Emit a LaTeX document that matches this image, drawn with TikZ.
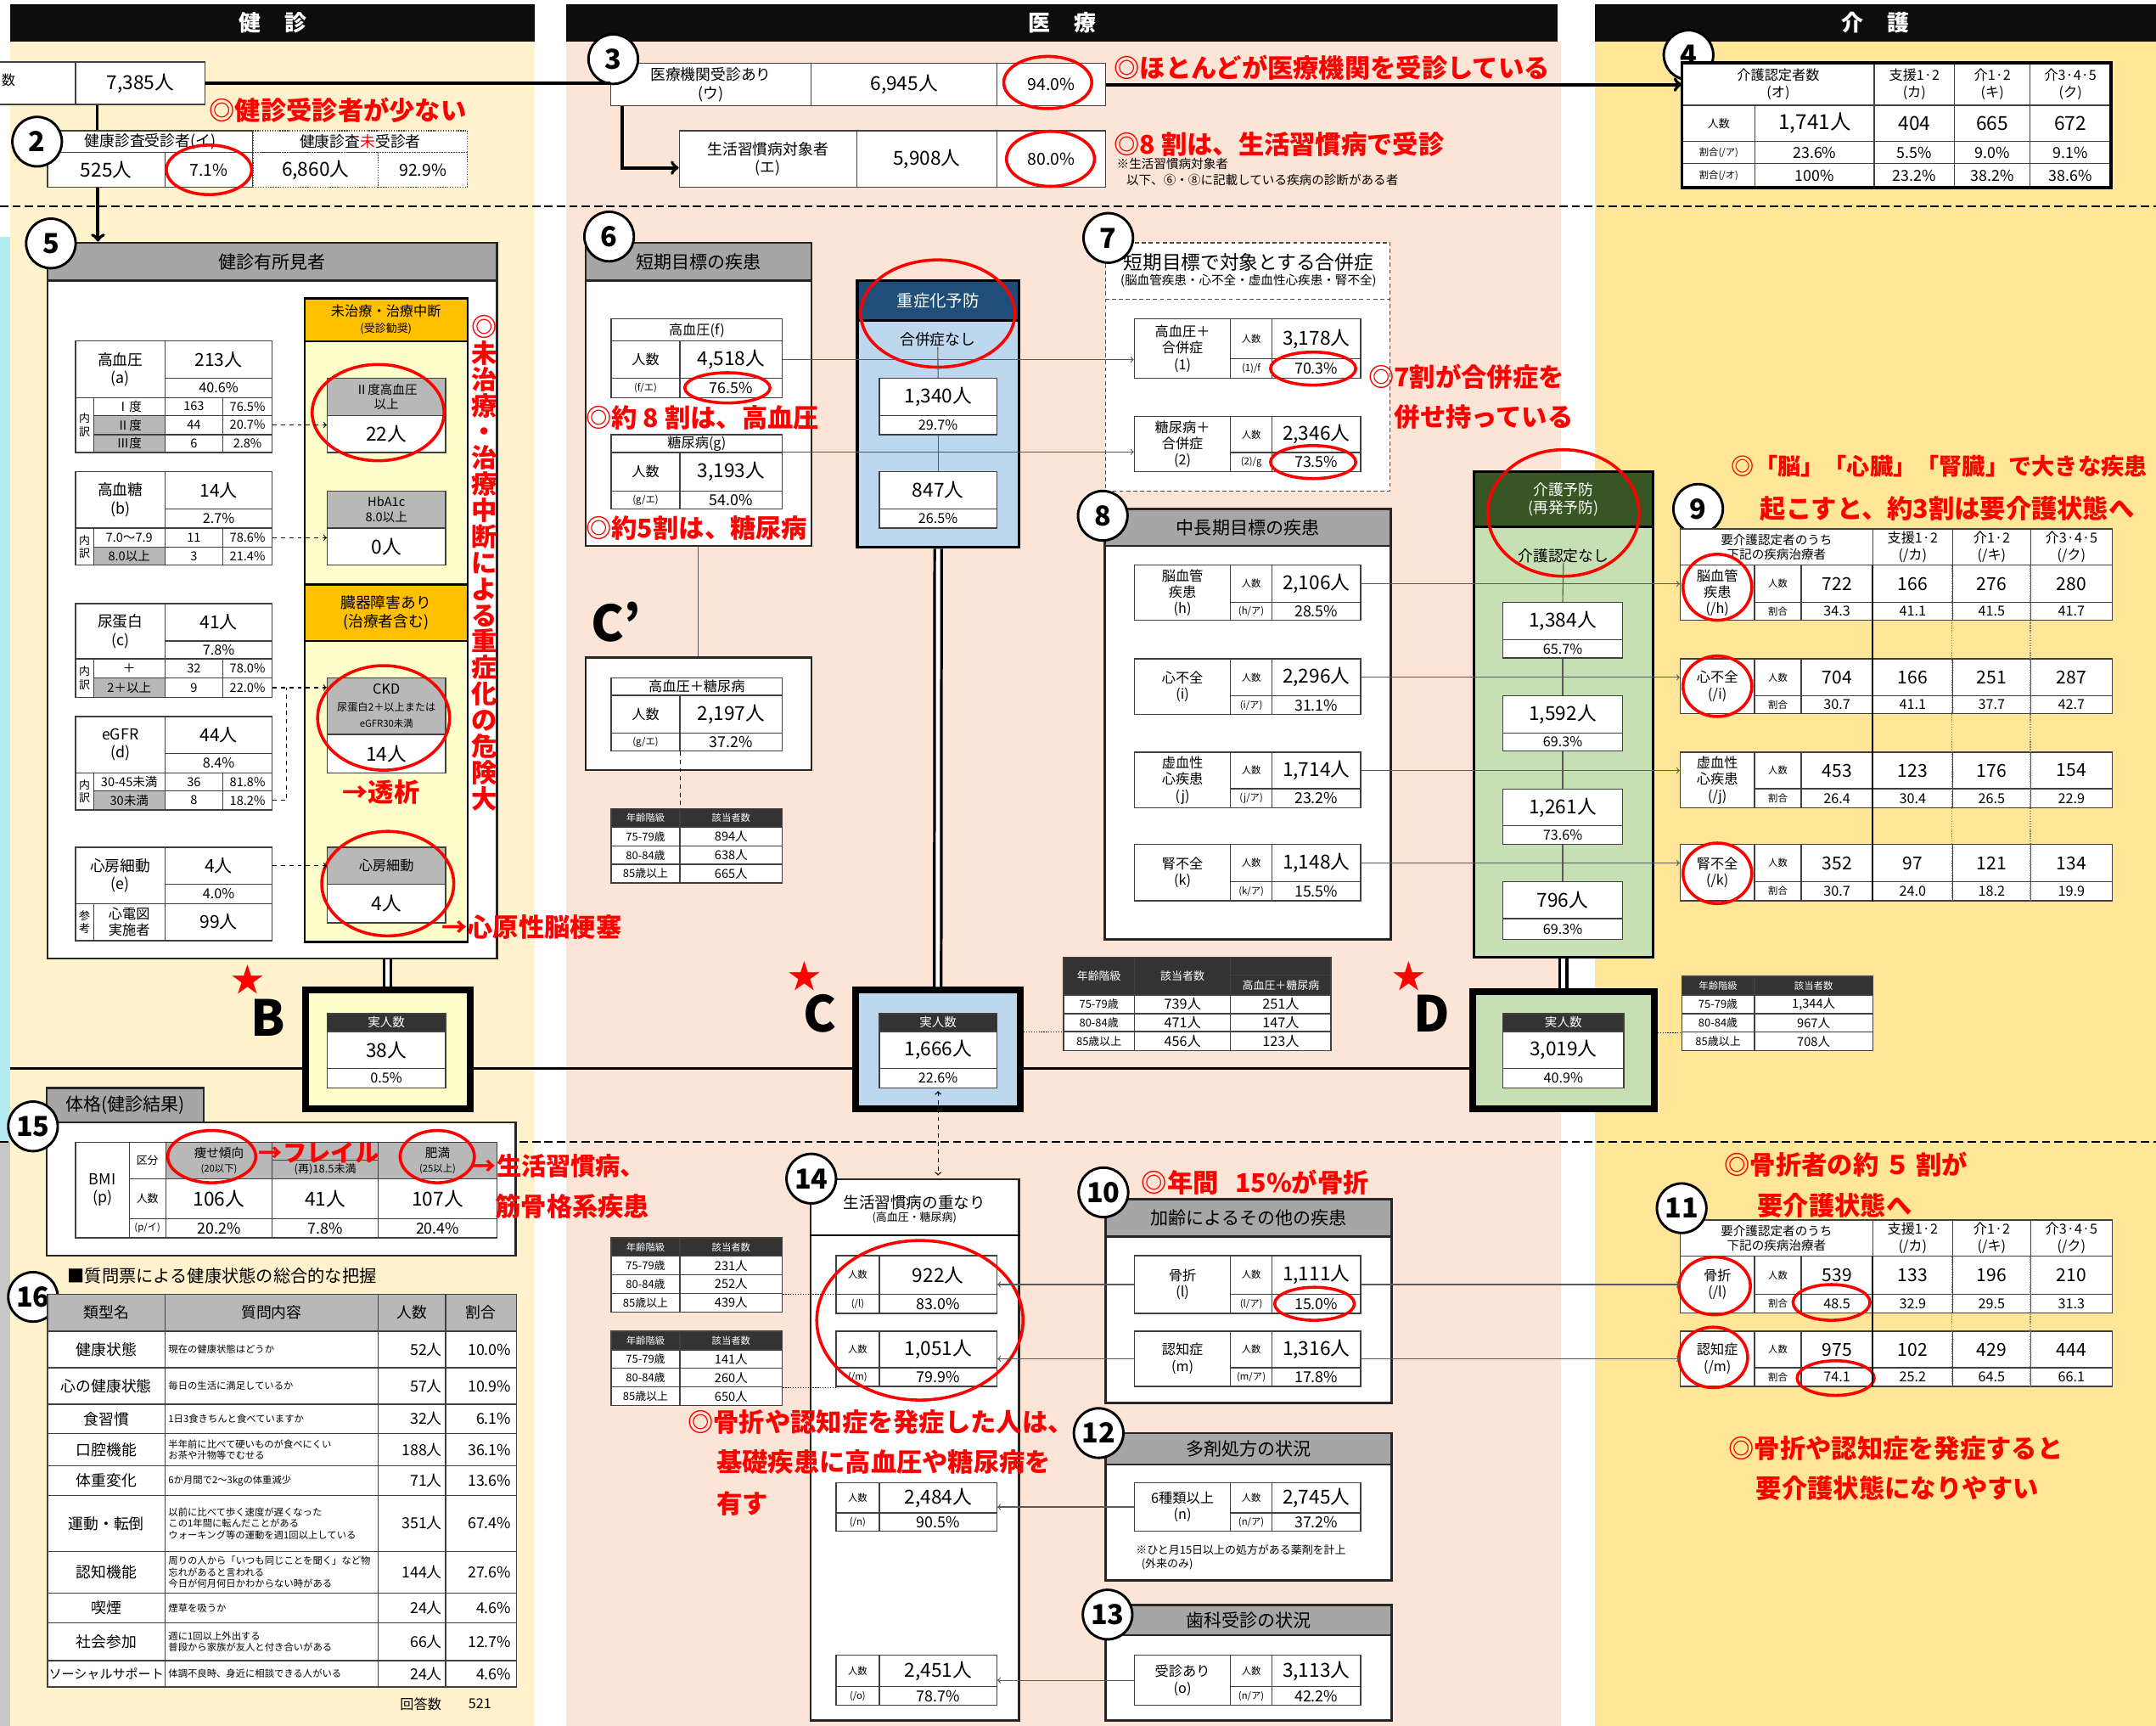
\documentclass[tikz,border=0pt]{standalone}
\usepackage{fontspec}
\setmainfont{Noto Sans CJK JP}
\usetikzlibrary{arrows,calc,shapes,positioning}
\tikzset{>=to}
\definecolor{kencream}{RGB}{255,242,204}
\definecolor{iryopink}{RGB}{252,228,214}
\definecolor{kaigoyel}{RGB}{255,230,153}
\definecolor{stripblue}{RGB}{180,235,240}
\definecolor{orgbox}{RGB}{255,192,0}
\definecolor{paleyel}{RGB}{255,255,204}
\definecolor{navy}{RGB}{31,78,121}
\definecolor{skyblue}{RGB}{189,215,238}
\definecolor{darkgrn}{RGB}{55,86,35}
\definecolor{palegrn}{RGB}{198,224,180}
\definecolor{hdrgray}{RGB}{166,166,166}
\definecolor{cellgray}{RGB}{184,184,184}
\newcommand{\fs}[1]{\fontsize{#1}{#1}\selectfont\baselineskip=1.2\baselineskip}
\tikzstyle{cell}=[rectangle,draw=black!75,fill=white,line width=0.8pt,inner sep=0pt,align=center,font=\fs{9}]
\tikzstyle{gcell}=[cell,fill=cellgray]
\tikzstyle{dcell}=[cell,fill=black!80,text=white]
\tikzstyle{dotcell}=[cell,densely dotted]
\tikzstyle{hdr}=[cell,fill=hdrgray,draw=black!85,line width=1.5pt,font=\fs{13}]
\tikzstyle{frame}=[cell,draw=black!85,line width=1.5pt]
\tikzstyle{dashframe}=[cell,densely dashed,draw=black!70]
\tikzstyle{hdrbar}=[rectangle,fill=black!95,text=white,inner sep=0pt,font=\bfseries\fs{16}]
\tikzstyle{ocell}=[cell,fill=orgbox,draw=black,line width=1.5pt,font=\fs{10}]
\tikzstyle{ybody}=[cell,fill=paleyel,draw=black,line width=1.5pt]
\tikzstyle{bigbox}=[cell,draw=black,line width=5pt]
\tikzstyle{qcell}=[cell,text width=150pt,align=left,font=\fs{7}]
\tikzstyle{ncell}=[cell,text width=44pt,align=right,font=\fs{11}]
\tikzstyle{numcirc}=[circle,draw,line width=1.8pt,fill=white,minimum size=36pt,inner sep=0pt,font=\bfseries\fs{20}]
\tikzstyle{memo}=[anchor=west,inner sep=0pt,text=red,font=\bfseries\fs{18.7}]
\tikzstyle{note}=[anchor=west,inner sep=0pt,font=\fs{8}]
\tikzstyle{ring}=[draw=red,line width=2.2pt]
\tikzstyle{starmark}=[text=red,inner sep=0pt,font=\fs{24}]
\tikzstyle{bigletter}=[inner sep=0pt,font=\bfseries\fs{36}]
\tikzstyle{sepline}=[line width=1.2pt,dash pattern=on 6pt off 3pt]
\tikzstyle{thinln}=[draw=black!65,line width=0.7pt]
\tikzstyle{thinarr}=[->,draw=black!65,line width=0.7pt]
\tikzstyle{dasharr}=[->,dashed,line width=0.7pt]
\tikzstyle{dashln}=[dashed,line width=0.7pt]
\tikzstyle{dotln}=[densely dotted,line width=0.8pt]
\tikzstyle{bold}=[line width=2.2pt]
\tikzstyle{boldarr}=[->,line width=2.5pt]
\tikzstyle{dbl}=[double,double distance=3pt,line width=2pt]
\tikzstyle{mainln}=[line width=2pt]
% cell: [style]{name}{x1}{y1}{x2}{y2}{text}
\newcommand{\bx}[7][cell]{\node[#1,minimum width={(#5)-(#3)},minimum height={(#6)-(#4)}] (#2) at ({((#3)+(#5))/2},{((#4)+(#6))/2}) {#7};}
\newcommand{\kentab}[7]{%
  \bx[cell,font=\fs{11}]{#1}{55}{#2}{120}{#4}{#5}%
  \bx[cell,font=\fs{13}]{#1n}{120}{#2}{198}{#3}{#6}%
  \bx[cell,font=\fs{10}]{#1p}{120}{#3}{198}{#4}{#7}}
\newcommand{\kenrow}[7][cell]{%
  \bx[#1]{#2l}{68}{#3}{120}{#4}{#5}%
  \bx{#2n}{120}{#3}{162}{#4}{#6}%
  \bx{#2p}{162}{#3}{198}{#4}{#7}}
\newcommand{\kenside}[4]{\bx[cell,font=\fs{8}]{#1}{55}{#2}{68}{#3}{#4}}
\newcommand{\dtab}[8]{%
  \bx[cell,font=\fs{10}]{#1}{825}{#2}{895}{#4}{#5}%
  \bx[cell,font=\fs{7}]{#1n}{895}{#2}{925}{#3}{人数}%
  \bx[cell,font=\fs{14}]{#1v}{925}{#2}{989.5}{#3}{#6}%
  \bx[cell,font=\fs{7}]{#1r}{895}{#3}{925}{#4}{#7}%
  \bx[cell,font=\fs{11}]{#1p}{925}{#3}{989.5}{#4}{#8}}
\newcommand{\stab}[7]{%
  \bx[cell,font=\fs{7}]{#1n}{608}{#2}{639.5}{#3}{人数}%
  \bx[cell,font=\fs{14}]{#1}{639.5}{#2}{725}{#3}{#5}%
  \bx[cell,font=\fs{7}]{#1r}{608}{#3}{639.5}{#4}{#6}%
  \bx[cell,font=\fs{11}]{#1p}{639.5}{#3}{725}{#4}{#7}}
\newcommand{\kgrp}[9]{%
  \bx[cell,font=\fs{10}]{#1}{1222}{#2}{1276}{#4}{#5}%
  \bx[cell,font=\fs{7}]{#1n}{1276}{#2}{1310}{#3}{人数}%
  \bx[cell,font=\fs{13}]{#1v}{1310}{#2}{1362}{#3}{#6}%
  \bx[cell,font=\fs{13}]{#1a}{1362}{#2}{1420}{#3}{#7}%
  \bx[cell,font=\fs{13}]{#1b}{1420}{#2}{1477}{#3}{#8}%
  \bx[cell,font=\fs{13}]{#1c}{1477}{#2}{1536}{#3}{#9}}
\newcommand{\kgrpr}[7]{%
  \bx[cell,font=\fs{7}]{#1r}{1276}{#2}{1310}{#3}{割合}%
  \bx[cell,font=\fs{10}]{#1p}{1310}{#2}{1362}{#3}{#4}%
  \bx[cell,font=\fs{10}]{#1pa}{1362}{#2}{1420}{#3}{#5}%
  \bx[cell,font=\fs{10}]{#1pb}{1420}{#2}{1477}{#3}{#6}%
  \bx[cell,font=\fs{10}]{#1pc}{1477}{#2}{1536}{#3}{#7}}
\newcommand{\kaigohead}[3]{%
  \bx[cell,font=\fs{9}]{#1}{1222}{#2}{1362}{#3}{要介護認定者のうち\\下記の疾病治療者}%
  \bx[cell,font=\fs{10}]{#1a}{1362}{#2}{1420}{#3}{支援1·2\\(/カ)}%
  \bx[cell,font=\fs{10}]{#1b}{1420}{#2}{1477}{#3}{介1·2\\(/キ)}%
  \bx[cell,font=\fs{10}]{#1c}{1477}{#2}{1536}{#3}{介3·4·5\\(/ク)}}
\newcommand{\agetab}[8]{%
  \bx[dcell,font=\fs{7}]{#1h1}{#2}{#5}{#3}{(#5)+13.5}{年齢階級}%
  \bx[dcell,font=\fs{7}]{#1h2}{#3}{#5}{#4}{(#5)+13.5}{該当者数}%
  \bx[cell,font=\fs{8}]{#1a1}{#2}{(#5)+13.5}{#3}{(#5)+27}{75-79歳}%
  \bx[cell,font=\fs{9}]{#1v1}{#3}{(#5)+13.5}{#4}{(#5)+27}{#6}%
  \bx[cell,font=\fs{8}]{#1a2}{#2}{(#5)+27}{#3}{(#5)+40.5}{80-84歳}%
  \bx[cell,font=\fs{9}]{#1v2}{#3}{(#5)+27}{#4}{(#5)+40.5}{#7}%
  \bx[cell,font=\fs{8}]{#1a3}{#2}{(#5)+40.5}{#3}{(#5)+54}{85歳以上}%
  \bx[cell,font=\fs{9}]{#1v3}{#3}{(#5)+40.5}{#4}{(#5)+54}{#8}}
\newcommand{\jitsu}[6]{%
  \bx[dcell,font=\fs{9}]{#1h}{#2}{737}{#3}{750}{実人数}%
  \bx[cell,font=\fs{14}]{#1v}{#2}{750}{#3}{777}{#4}%
  \bx[cell,font=\fs{10}]{#1p}{#2}{777}{#3}{791}{#5}}

\begin{document}
\begin{tikzpicture}[x=1pt,y=-1pt]
\useasboundingbox (0,0) rectangle (1568,1255);
% columns
\fill[white] (0,0) rectangle (1568,1255);
\fill[kencream] (7.7,30) rectangle (389,1255);
\fill[iryopink] (412,30) rectangle (1135,1255);
\fill[kaigoyel] (1160,30) rectangle (1568,1255);
\fill[stripblue] (0,172) rectangle (7.7,831);
\fill[black!22] (0,831) rectangle (7.7,1255);
\bx[hdrbar]{hken}{7.7}{3}{389}{30}{健\hspace{17pt}診}
\bx[hdrbar]{hiryo}{412}{3}{1133}{30}{医\hspace{17pt}療}
\bx[hdrbar]{hkaigo}{1160}{3}{1568}{30}{介\hspace{17pt}護}
\draw[sepline] (0,150) -- (1568,150);
\draw[sepline] (0,830) -- (1568,830);

% ---- 1, 2
\bx{totl}{-10}{45}{55}{76}{}
\node[anchor=west,inner sep=0pt,font=\fs{10}] (totlt) at (1,58) {数};
\bx[cell,font=\fs{14}]{totv}{55}{45}{149}{76}{7,385人}
\node[memo] (m1) at (152,80) {◎健診受診者が少ない};
\bx[cell,font=\fs{11}]{k2h1}{34.5}{95}{184}{111}{健康診査受診者(イ)}
\bx[dotcell,font=\fs{11}]{k2h2}{184}{95}{340}{111}{健康診査{\color{red}未}受診者}
\bx[cell,font=\fs{14}]{k2a}{34.5}{111}{120}{136}{525人}
\bx[cell,font=\fs{12}]{k2b}{120}{111}{184}{136}{7.1\%}
\bx[dotcell,font=\fs{14}]{k2c}{184}{111}{275}{136}{6,860人}
\bx[dotcell,font=\fs{12}]{k2d}{275}{111}{340}{136}{92.9\%}
\node[numcirc] (c2) at (27,103) {2};
\draw[ring] (152,123.5) ellipse (31pt and 18pt);

% ---- 3
\bx[cell,font=\fs{11}]{i3a}{444}{46}{590}{77}{医療機関受診あり\\(ウ)}
\bx[cell,font=\fs{14}]{i3b}{590}{46}{725}{77}{6,945人}
\bx[cell,font=\fs{12}]{i3c}{725}{46}{804}{77}{94.0\%}
\node[numcirc] (c3) at (446,43) {3};
\draw[ring] (762,60) ellipse (32pt and 19pt);
\node[memo] (m2) at (810,49) {◎ほとんどが医療機関を受診している};
\bx[cell,font=\fs{11}]{i3d}{494}{95}{623}{136}{生活習慣病対象者\\(エ)}
\bx[cell,font=\fs{14}]{i3e}{623}{95}{725}{136}{5,908人}
\bx[cell,font=\fs{12}]{i3f}{725}{95}{804}{136}{80.0\%}
\draw[ring] (764,115.5) ellipse (32pt and 20pt);
\node[memo] (m3) at (810,105) {◎8 割は、生活習慣病で受診};
\node[note,font=\fs{9}] (n3a) at (812,119) {※生活習慣病対象者};
\node[note,font=\fs{9}] (n3b) at (819,131) {以下、⑥・⑧に記載している疾病の診断がある者};

% ---- 4
\node[numcirc] (c4) at (1228,40) {4};
\bx[cell,font=\fs{10}]{k4h}{1223.5}{46}{1363}{76.5}{介護認定者数\\(オ)}
\bx[cell,font=\fs{8}]{k4n}{1223.5}{76.5}{1276.5}{103}{人数}
\bx[cell,font=\fs{15}]{k4v}{1276.5}{76.5}{1363}{103}{1,741人}
\bx[cell,font=\fs{7}]{k4r1}{1223.5}{103}{1276.5}{119}{割合(/ア)}
\bx[cell,font=\fs{11}]{k4p}{1276.5}{103}{1363}{119}{23.6\%}
\bx[cell,font=\fs{7}]{k4r2}{1223.5}{119}{1276.5}{136}{割合(/オ)}
\bx[cell,font=\fs{11}]{k4q}{1276.5}{119}{1363}{136}{100\%}
\foreach \c/\xa/\xb/\hd/\nv/\ra/\rb in {a/1363/1421.5/{支援1·2\\(カ)}/404/5.5/23.2,
    b/1421.5/1476.5/{介1·2\\(キ)}/665/9.0/38.2, c/1476.5/1535/{介3·4·5\\(ク)}/672/9.1/38.6}{
  \bx[cell,font=\fs{10}]{k4h\c}{\xa}{46}{\xb}{76.5}{\hd}
  \bx[cell,font=\fs{14}]{k4v\c}{\xa}{76.5}{\xb}{103}{\nv}
  \bx[cell,font=\fs{11}]{k4p\c}{\xa}{103}{\xb}{119}{\ra\%}
  \bx[cell,font=\fs{11}]{k4q\c}{\xa}{119}{\xb}{136}{\rb\%}
}
\draw[line width=2.2pt] (k4h.north west) rectangle (k4qc.south east);

% ---- 5
\bx[frame]{b5}{34.5}{176.5}{361.5}{697}{}
\bx[hdr]{b5h}{34.5}{176.5}{361.5}{204}{健診有所見者}
\node[numcirc] (c5) at (37,177) {5};
\kentab{ta}{248}{275}{289}{高血圧\\(a)}{213人}{40.6\%}
\kenside{tas}{289}{329}{内\\訳}
\kenrow{ta1}{289}{302}{Ⅰ度}{163}{76.5\%}
\kenrow[gcell]{ta2}{302}{316}{Ⅱ度}{44}{20.7\%}
\kenrow[gcell]{ta3}{316}{329}{Ⅲ度}{6}{2.8\%}
\kentab{tb}{343}{370}{384}{高血糖\\(b)}{14人}{2.7\%}
\kenside{tbs}{384}{411}{内\\訳}
\kenrow{tb1}{384}{398}{7.0〜7.9}{11}{78.6\%}
\kenrow[gcell]{tb2}{398}{411}{8.0以上}{3}{21.4\%}
\kentab{tc}{439}{466}{479}{尿蛋白\\(c)}{41人}{7.8\%}
\kenside{tcs}{479}{507}{内\\訳}
\kenrow{tc1}{479}{493}{＋}{32}{78.0\%}
\kenrow[gcell]{tc2}{493}{507}{2＋以上}{9}{22.0\%}
\kentab{td}{521}{548}{562}{eGFR\\(d)}{44人}{8.4\%}
\kenside{tds}{562}{589}{内\\訳}
\kenrow{td1}{562}{575}{30-45未満}{36}{81.8\%}
\kenrow[gcell]{td2}{575}{589}{30未満}{8}{18.2\%}
\kentab{te}{616}{643}{657}{心房細動\\(e)}{4人}{4.0\%}
\kenside{tes}{657}{684}{参\\考}
\bx[cell,font=\fs{10}]{ter}{68}{657}{120}{684}{心電図\\実施者}
\bx[cell,font=\fs{13}]{tev}{120}{657}{198}{684}{99人}
\bx[ocell]{ob1}{221.5}{217}{340}{248}{未治療・治療中断\\{\fs{8}(受診勧奨)}}
\bx[ybody]{yb1}{221.5}{248}{340}{425}{}
\bx[ocell,font=\fs{11}]{ob2}{221.5}{425}{340}{466}{臓器障害あり\\(治療者含む)}
\bx[ybody]{yb2}{221.5}{466}{340}{685}{}
\bx[gcell,font=\fs{9}]{s1}{238}{275}{324}{302}{Ⅱ度高血圧\\以上}
\bx[cell,font=\fs{14}]{s1v}{238}{302}{324}{329}{22人}
\bx[gcell,font=\fs{9}]{s2}{238}{357}{324}{384}{HbA1c\\8.0以上}
\bx[cell,font=\fs{14}]{s2v}{238}{384}{324}{411}{0人}
\bx[gcell,font=\fs{10}]{s3}{238}{493}{324}{534}{CKD\\{\fs{7.5}尿蛋白2＋以上または}\\{\fs{7}eGFR30未満}}
\bx[cell,font=\fs{14}]{s3v}{238}{534}{324}{562}{14人}
\bx[gcell,font=\fs{10}]{s4}{238}{616}{324}{643}{心房細動}
\bx[cell,font=\fs{14}]{s4v}{238}{643}{324}{671}{4人}
\draw[ring] (275,300) ellipse (48pt and 35pt);
\draw[ring] (279,522) ellipse (48pt and 38pt);
\draw[ring] (282,642.5) ellipse (48pt and 38pt);
\node[memo] (m4) at (249,576) {→透析};
\node[memo] (m5) at (321,674) {→心原性脳梗塞};
\node[memo,anchor=north,align=center,font=\bfseries\fontsize{18.7}{19.06}\selectfont] (m6) at (352,229)
  {◎\\未\\治\\療\\・\\治\\療\\中\\断\\に\\よ\\る\\重\\症\\化\\の\\危\\険\\大};

% ---- B
\bx[bigbox,fill=paleyel]{bbox}{222}{720}{342}{806}{}
\jitsu{bb}{238}{324}{38人}{0.5\%}{}
\node[starmark] (starb) at (180,712) {★};
\node[bigletter] (lb) at (195,740) {B};

% ---- 15
\bx[hdr,font=\fs{13}]{b15t}{34}{791}{148}{816}{体格(健診結果)}
\bx[frame]{b15}{34}{816}{375}{913}{}
\node[numcirc] (c15) at (24,819) {15};
\bx[cell,font=\fs{11}]{bmi}{55}{830.5}{94}{900}{BMI\\(p)}
\bx[cell,font=\fs{8}]{bmik}{94}{830.5}{120.5}{857}{区分}
\bx[cell,font=\fs{8}]{bmin}{94}{857}{120.5}{886}{人数}
\bx[cell,font=\fs{7}]{bmir}{94}{886}{120.5}{900}{(p/イ)}
\bx[gcell,font=\fs{9}]{bmh1}{120.5}{830.5}{198}{857}{痩せ傾向\\{\fs{7}(20以下)}}
\bx[gcell]{bmh2a}{198}{830.5}{275}{843.5}{}
\bx[gcell,font=\fs{8}]{bmh2}{198}{843.5}{275}{857}{(再)18.5未満}
\bx[gcell,font=\fs{9}]{bmh3}{275}{830.5}{361.5}{857}{肥満\\{\fs{7}(25以上)}}
\bx[cell,font=\fs{14}]{bmv1}{120.5}{857}{198}{886}{106人}
\bx[cell,font=\fs{14}]{bmv2}{198}{857}{275}{886}{41人}
\bx[cell,font=\fs{14}]{bmv3}{275}{857}{361.5}{886}{107人}
\bx[cell,font=\fs{11}]{bmp1}{120.5}{886}{198}{900}{20.2\%}
\bx[cell,font=\fs{11}]{bmp2}{198}{886}{275}{900}{7.8\%}
\bx[cell,font=\fs{11}]{bmp3}{275}{886}{361.5}{900}{20.4\%}
\draw[ring] (154,841) ellipse (32pt and 19pt);
\draw[ring] (318,841) ellipse (27pt and 19pt);
\node[memo,font=\bfseries\fs{17.5}] (m7) at (188,838) {→フレイル};
\node[memo,font=\bfseries\fs{18}] (m8) at (343,848) {→生活習慣病、};
\node[memo] (m9) at (360,877) {筋骨格系疾患};

% ---- 16
\node[numcirc] (c16) at (24,943) {16};
\node[anchor=west,inner sep=0pt,font=\fs{12.5}] (t16) at (49,928) {■質問票による健康状態の総合的な把握};
\bx[gcell,font=\fs{11}]{q0a}{34.6}{941}{120}{968}{類型名}
\bx[gcell,font=\fs{11}]{q0b}{120}{941}{275}{968}{質問内容}
\bx[gcell,font=\fs{11}]{q0c}{275}{941}{324}{968}{人数}
\bx[gcell,font=\fs{11}]{q0d}{324}{941}{375.5}{968}{割合}
\foreach \ya/\yb/\nm/\qq/\nn/\pp [count=\i] in {
  968/994.5/{健康状態}/{現在の健康状態はどうか}/52/10.0,
  994.5/1021/{心の健康状態}/{毎日の生活に満足しているか}/57/10.9,
  1021/1042.5/{食習慣}/{1日3食きちんと食べていますか}/32/6.1,
  1042.5/1065.6/{口腔機能}/{半年前に比べて硬いものが食べにくい\\お茶や汁物等でむせる}/188/36.1,
  1065.6/1087.4/{体重変化}/{6か月間で2〜3kgの体重減少}/71/13.6,
  1087.4/1128/{運動・転倒}/{以前に比べて歩く速度が遅くなった\\この1年間に転んだことがある\\ウォーキング等の運動を週1回以上している}/351/67.4,
  1128/1158.6/{認知機能}/{周りの人から「いつも同じことを聞く」など物\\忘れがあると言われる\\今日が何月何日かわからない時がある}/144/27.6,
  1158.6/1180/{喫煙}/{煙草を吸うか}/24/4.6,
  1180/1207.5/{社会参加}/{週に1回以上外出する\\普段から家族が友人と付き合いがある}/66/12.7,
  1207.5/1226.6/{{\fs{9.3}ソーシャルサポート}}/{体調不良時、身近に相談できる人がいる}/24/4.6}{
  \bx[cell,font=\fs{11}]{qa\i}{34.6}{\ya}{120}{\yb}{\nm}
  \bx[qcell]{qb\i}{120}{\ya}{275}{\yb}{\qq}
  \bx[ncell]{qc\i}{275}{\ya}{324}{\yb}{\nn 人}
  \bx[ncell]{qd\i}{324}{\ya}{375.5}{\yb}{\pp\%}
}
\node[inner sep=0pt,font=\fs{10}] (kaitou) at (306,1239) {回答数};
\node[inner sep=0pt,font=\fs{10}] (kaitoun) at (349,1239) {521};

% ---- 6, C'
\bx[frame]{b6}{426}{176.5}{590}{397}{}
\bx[hdr]{b6h}{426}{176.5}{590}{204}{短期目標の疾患}
\node[numcirc] (c6) at (443,172) {6};
\bx[cell,font=\fs{10}]{t6f}{444.5}{232}{569}{248}{高血圧(f)}
\bx[cell,font=\fs{10}]{t6fn}{444.5}{248}{494.5}{275}{人数}
\bx[cell,font=\fs{14}]{t6fv}{494.5}{248}{569}{275}{4,518人}
\bx[cell,font=\fs{7}]{t6fr}{444.5}{275}{494.5}{289}{(f/エ)}
\bx[cell,font=\fs{11}]{t6fp}{494.5}{275}{569}{289}{76.5\%}
\draw[ring] (529,282) ellipse (31pt and 11pt);
\node[memo] (m10) at (426,304) {◎約 8 割は、高血圧};
\bx[cell,font=\fs{10}]{t6g}{444.5}{316}{569}{329}{糖尿病(g)}
\bx[cell,font=\fs{10}]{t6gn}{444.5}{329}{494.5}{357}{人数}
\bx[cell,font=\fs{14}]{t6gv}{494.5}{329}{569}{357}{3,193人}
\bx[cell,font=\fs{7}]{t6gr}{444.5}{357}{494.5}{370}{(g/エ)}
\bx[cell,font=\fs{11}]{t6gp}{494.5}{357}{569}{370}{54.0\%}
\node[memo] (m11) at (426,384) {◎約5割は、糖尿病};
\node[bigletter] (lcp) at (448,452) {C’};
\bx[frame]{bcp}{426}{478}{590}{560}{}
\bx[cell,font=\fs{10}]{tcp}{444.5}{493}{569}{505.6}{高血圧＋糖尿病}
\bx[cell,font=\fs{10}]{tcpn}{444.5}{505.6}{494.5}{533}{人数}
\bx[cell,font=\fs{14}]{tcpv}{494.5}{505.6}{569}{533}{2,197人}
\bx[cell,font=\fs{7}]{tcpr}{444.5}{533}{494.5}{546}{(g/エ)}
\bx[cell,font=\fs{11}]{tcpp}{494.5}{533}{569}{546}{37.2\%}
\agetab{agc}{444.5}{494.5}{569}{588}{894人}{638人}{665人}

% ---- 重症化予防, C
\bx[cell,fill=skyblue,draw=black,line width=2pt]{jbox}{623.5}{204}{741}{398}{}
\bx[cell,fill=navy,text=white,draw=black,line width=2pt,font=\fs{12}]{jh}{623.5}{204}{741}{233}{重症化予防}
\node[inner sep=0pt,font=\fs{11}] (jn) at (682,247) {合併症なし};
\bx[cell,font=\fs{14}]{j1}{639.5}{275}{725}{302}{1,340人}
\bx[cell,font=\fs{10}]{j1p}{639.5}{302}{725}{316}{29.7\%}
\bx[cell,font=\fs{14}]{j2}{639.5}{343}{725}{370}{847人}
\bx[cell,font=\fs{10}]{j2p}{639.5}{370}{725}{384}{26.5\%}
\draw[ring] (682,228) ellipse (56pt and 39pt);
\bx[bigbox,fill=skyblue]{cbox}{622}{720}{742}{806}{}
\jitsu{cc}{639.5}{725}{1,666人}{22.6\%}{}
\node[starmark] (starc) at (585,710) {★};
\node[bigletter] (lc) at (596,737) {C};
\bx[dcell,font=\fs{8}]{cah1}{773.5}{696}{825}{723.5}{年齢階級}
\bx[dcell,font=\fs{8}]{cah2}{825}{696}{895}{723.5}{該当者数}
\bx[dcell]{cah3a}{895}{696}{968}{709}{}
\bx[dcell,font=\fs{8}]{cah3}{895}{709}{968}{723.5}{高血圧＋糖尿病}
\foreach \ya/\yb/\ag/\na/\nb [count=\i] in {723.5/737/75-79歳/739人/251人, 737/750/80-84歳/471人/147人, 750/764/85歳以上/456人/123人}{
  \bx[cell,font=\fs{8}]{car\i}{773.5}{\ya}{825}{\yb}{\ag}
  \bx[cell,font=\fs{10}]{cav\i}{825}{\ya}{895}{\yb}{\na}
  \bx[cell,font=\fs{10}]{caw\i}{895}{\ya}{968}{\yb}{\nb}
}

% ---- 7
\bx[dashframe]{b7}{804}{176.5}{1011}{357}{}
\draw[densely dashed,line width=0.8pt,black!70] ($(b7.north west)+(0,41.5)$) -- ($(b7.north east)+(0,41.5)$);
\node[inner sep=0pt,font=\fs{14}] (t7) at (908,191) {短期目標で対象とする合併症};
\node[inner sep=0pt,font=\fs{9}] (t7s) at (908,204) {(脳血管疾患・心不全・虚血性心疾患・腎不全)};
\node[numcirc] (c7) at (806,173) {7};
\dtab{t71}{232}{261}{275}{高血圧＋\\合併症\\(1)}{3,178人}{(1)/f}{70.3\%}
\dtab{t72}{303}{329}{343}{糖尿病＋\\合併症\\(2)}{2,346人}{(2)/g}{73.5\%}
\draw[ring] (955,268) ellipse (31pt and 12pt);
\draw[ring] (955,336) ellipse (31pt and 12pt);
\node[memo] (m12) at (995,274) {◎7割が合併症を};
\node[memo] (m13) at (1014,303) {併せ持っている};

% ---- 8
\bx[frame]{b8}{803.5}{370}{1011.6}{683}{}
\bx[hdr]{b8h}{803.5}{370}{1011.6}{397}{中長期目標の疾患}
\node[numcirc] (c8) at (802,375) {8};
\dtab{t8h}{411}{438}{451}{脳血管\\疾患\\(h)}{2,106人}{(h/ア)}{28.5\%}
\dtab{t8i}{479}{506}{519.5}{心不全\\(i)}{2,296人}{(i/ア)}{31.1\%}
\dtab{t8j}{547}{573.5}{587.5}{虚血性\\心疾患\\(j)}{1,714人}{(j/ア)}{23.2\%}
\dtab{t8k}{614}{641}{655}{腎不全\\(k)}{1,148人}{(k/ア)}{15.5\%}

% ---- 介護予防, D
\bx[cell,fill=palegrn,draw=black,line width=2pt]{gbox}{1072}{343}{1202}{696}{}
\bx[cell,fill=darkgrn,text=white,draw=black,line width=2pt,font=\fs{11}]{gh}{1072}{343}{1202}{383}{介護予防\\(再発予防)}
\node[inner sep=0pt,font=\fs{11}] (gn) at (1137,404) {介護認定なし};
\bx[cell,font=\fs{14}]{g1}{1093}{438}{1180}{465}{1,384人}
\bx[cell,font=\fs{10}]{g1p}{1093}{465}{1180}{478.5}{65.7\%}
\bx[cell,font=\fs{14}]{g2}{1093}{506}{1180}{533}{1,592人}
\bx[cell,font=\fs{10}]{g2p}{1093}{533}{1180}{546}{69.3\%}
\bx[cell,font=\fs{14}]{g3}{1093}{574}{1180}{600.5}{1,261人}
\bx[cell,font=\fs{10}]{g3p}{1093}{600.5}{1180}{614}{73.6\%}
\bx[cell,font=\fs{14}]{g4}{1093}{641}{1180}{668}{796人}
\bx[cell,font=\fs{10}]{g4p}{1093}{668}{1180}{683}{69.3\%}
\draw[ring] (1137,373) ellipse (55pt and 46pt);
\bx[bigbox,fill=palegrn]{dbox}{1071}{721}{1203}{806}{}
\jitsu{dd}{1093}{1181}{3,019人}{40.9\%}{}
\node[starmark] (stard) at (1025,710) {★};
\node[bigletter] (ld) at (1041,737) {D};
\agetab{agd}{1223}{1276}{1362}{710}{1,344人}{967人}{708人}

% ---- 9
\node[numcirc] (c9) at (1235,370) {9};
\node[memo,font=\bfseries\fs{16.8}] (m14) at (1259,339) {◎「脳」「心臓」「腎臓」で大きな疾患};
\node[memo] (m15) at (1280,370) {起こすと、約3割は要介護状態へ};
\kaigohead{k9t}{384.5}{411}
\kgrp{k9h}{411}{438}{451}{脳血管\\疾患\\(/h)}{722}{166}{276}{280}
\kgrpr{k9h}{438}{451}{34.3}{41.1}{41.5}{41.7}
\kgrp{k9i}{479}{506}{519}{心不全\\(/i)}{704}{166}{251}{287}
\kgrpr{k9i}{506}{519}{30.7}{41.1}{37.7}{42.7}
\kgrp{k9j}{547}{573.5}{587.5}{虚血性\\心疾患\\(/j)}{453}{123}{176}{154}
\kgrpr{k9j}{573.5}{587.5}{26.4}{30.4}{26.5}{22.9}
\kgrp{k9k}{614}{641}{655}{腎不全\\(/k)}{352}{97}{121}{134}
\kgrpr{k9k}{641}{655}{30.7}{24.0}{18.2}{19.9}
\draw[ring] (1249,427) ellipse (25pt and 24pt);
\draw[ring] (1249,499) ellipse (25pt and 22pt);
\draw[ring] (1249,635) ellipse (25pt and 22pt);

% ---- 14
\bx[frame]{b14}{589.5}{857.5}{741}{1251}{}
\draw[line width=1.5pt] ($(b14.north west)+(0,41.5)$) -- ($(b14.north east)+(0,41.5)$);
\node[inner sep=0pt,font=\fs{11.5}] (t14) at (665,874.5) {生活習慣病の重なり};
\node[inner sep=0pt,font=\fs{8}] (t14s) at (665,885.5) {(高血圧・糖尿病)};
\node[numcirc] (c14) at (590,857) {14};
\stab{t14l}{913}{941}{955}{922人}{(/l)}{83.0\%}
\stab{t14m}{968}{994.5}{1008}{1,051人}{(/m)}{79.9\%}
\stab{t14n}{1078}{1100}{1113.5}{2,484人}{(/n)}{90.5\%}
\stab{t14o}{1203.5}{1226.5}{1240}{2,451人}{(/o)}{78.7\%}
\draw[ring] (669,960) ellipse (75pt and 58pt);
\agetab{a14a}{444.5}{494.5}{569}{900}{231人}{252人}{439人}
\agetab{a14b}{444.5}{494.5}{569}{968}{141人}{260人}{650人}
\node[memo] (m16) at (500,1034) {◎骨折や認知症を発症した人は、};
\node[memo] (m17) at (521,1063) {基礎疾患に高血圧や糖尿病を};
\node[memo] (m18) at (521,1093) {有す};

% ---- 10, 12, 13
\bx[frame]{b10}{804}{872}{1012}{1020}{}
\bx[hdr]{b10h}{804}{872}{1012}{899}{加齢によるその他の疾患}
\node[numcirc] (c10) at (802.5,867) {10};
\node[memo] (m19) at (830,860) {◎年間\hspace{12pt}15\%が骨折};
\dtab{t10l}{913}{941}{955}{骨折\\(l)}{1,111人}{(l/ア)}{15.0\%}
\dtab{t10m}{968}{994.5}{1008}{認知症\\(m)}{1,316人}{(m/ア)}{17.8\%}
\draw[ring] (956,948) ellipse (29pt and 12pt);
\bx[frame]{b12}{804}{1042}{1012}{1149}{}
\bx[hdr]{b12h}{804}{1042}{1012}{1065}{多剤処方の状況}
\node[numcirc] (c12) at (799,1042) {12};
\dtab{t12n}{1078}{1100}{1113.5}{6種類以上\\(n)}{2,745人}{(n/ア)}{37.2\%}
\node[note] (n12a) at (826,1127) {※ひと月15日以上の処方がある薬剤を計上};
\node[note] (n12b) at (830,1137) {(外来のみ)};
\bx[frame]{b13}{804}{1167}{1012}{1251}{}
\bx[hdr]{b13h}{804}{1167}{1012}{1189}{歯科受診の状況}
\node[numcirc] (c13) at (805.5,1174) {13};
\dtab{t13o}{1203.5}{1226.5}{1240}{受診あり\\(o)}{3,113人}{(n/ア)}{42.2\%}

% ---- 11
\node[memo] (m20) at (1254,847) {◎骨折者の約 ５ 割が};
\node[memo] (m21) at (1278,876.5) {要介護状態へ};
\kaigohead{k11t}{887}{913.5}
\kgrp{k11l}{913.5}{941}{954.5}{骨折\\(/l)}{539}{133}{196}{210}
\kgrpr{k11l}{941}{954.5}{48.5}{32.9}{29.5}{31.3}
\kgrp{k11m}{968}{994.5}{1008}{認知症\\(/m)}{975}{102}{429}{444}
\kgrpr{k11m}{994.5}{1008}{74.1}{25.2}{64.5}{66.1}
\node[numcirc] (c11) at (1223,878.5) {11};
\draw[ring] (1247,935) ellipse (26pt and 21pt);
\draw[ring] (1332,947) ellipse (28pt and 13pt);
\draw[ring] (1246,987) ellipse (25pt and 22pt);
\draw[ring] (1335,1002) ellipse (28pt and 12.6pt);
\node[memo] (m22) at (1257,1053) {◎骨折や認知症を発症すると};
\node[memo] (m23) at (1277,1082) {要介護状態になりやすい};

% ---- connectors
\draw[bold] (totv.east) -- (totv.east -| i3a.west);
\draw[boldarr] (i3c.east) -- (i3c.east -| k4h.west);
\draw[bold] ($(totv.south west)+(16,0)$) coordinate (tv1) -- (tv1 |- k2h1.north);
\coordinate (k2down) at ($(k2a.south)+(-6,0)$);
\draw[boldarr] (k2down) -- (k2down |- b5.north);
\coordinate (i3down) at ($(i3a.south west)+(9,0)$);
\draw[boldarr] (i3down) |- ($(i3d.west)+(0,6.5)$);
\draw[dasharr] (ta2p.east) -- (ta2p.east -| s1v.west);
\draw[dasharr] (tb1p.east) -- (tb1p.east -| s2v.west);
\draw[dasharr] (tc2p.east) -- (tc2p.east -| s3.west);
\draw[dashln] (td2p.east) -| ($(tc2p.east)+(10,0)$);
\draw[dasharr] (ten.east) -- (ten.east -| s4.west);
\draw[dbl] (bbox.north |- b5.south) -- (bbox.north);
\draw[dbl] (jbox.south) -- (cbox.north);
\draw[dbl] (gbox.south) -- (dbox.north);
\coordinate (lstart) at (7.7,777);
\draw[mainln] (lstart) -- (lstart -| bbox.west);
\draw[mainln] (lstart -| bbox.east) -- (lstart -| cbox.west);
\draw[mainln] (lstart -| cbox.east) -- (lstart -| dbox.west);
\draw[thinln] (b6.south) -- (bcp.north);
\draw[dashln] (tcpr.south east) -- (agch1.north east);
\draw[thinln] (jn.south) -- (j1.north);
\draw[thinln] (j1p.south) -- (j2.north);
\draw[thinln] (gn.south) -- (g1.north);
\draw[thinln] (g1p.south) -- (g2.north);
\draw[thinln] (g2p.south) -- (g3.north);
\draw[thinln] (g3p.south) -- (g4.north);
\draw[thinarr] (t6fv.east) -- (t6fv.east -| t71.west);
\draw[thinarr] (t6gv.north east) -- (t6gv.north east -| t72.west);
\draw[thinarr] (t8hv.east) -- (t8hv.east -| k9h.west);
\draw[thinarr] (t8iv.east) -- (t8iv.east -| k9i.west);
\draw[thinarr] (t8jv.east) -- (t8jv.east -| k9j.west);
\draw[thinarr] (t8kv.east) -- (t8kv.east -| k9k.west);
\draw[line width=1.2pt] (k9ta.south west) -- (k9kpa.south west);
\draw[dotln,black!50] (k9tb.south west) -- (k9kpb.south west);
\draw[dotln,black!50] (k9tc.south west) -- (k9kpc.south west);
\draw[line width=1.2pt] (k11ta.south west) -- (k11mpa.south west);
\draw[dotln,black!50] (k11tb.south west) -- (k11mpb.south west);
\draw[dotln,black!50] (k11tc.south west) -- (k11mpc.south west);
\draw[dotln] (car2.south west -| cbox.east) -- (car2.south west);
\draw[dotln] (agda2.south west -| dbox.east) -- (agda2.south west);
\draw[dashed,line width=0.8pt,to-to] ($(ccp.south)+(0,2)$) -- ($(ccp.south |- b14.north)+(0,-2)$);
\draw[dotln] (a14av2.south east) -- (a14av2.south east -| t14ln.west);
\draw[dotln] (a14bv2.south east) -- (a14bv2.south east -| t14mn.west);
\draw[thinarr] (t10l.west) -- (t10l.west -| t14l.east);
\draw[thinarr] (t10m.west) -- (t10m.west -| t14m.east);
\draw[thinarr] (t12n.west) -- (t12n.west -| t14n.east);
\draw[thinarr] (t13o.west) -- (t13o.west -| t14o.east);
\draw[thinarr] (t10l.east -| t10lv.east) -- (t10l.east -| k11l.west);
\draw[thinarr] (t10m.east -| t10mv.east) -- (t10m.east -| k11m.west);
\end{tikzpicture}
\end{document}
